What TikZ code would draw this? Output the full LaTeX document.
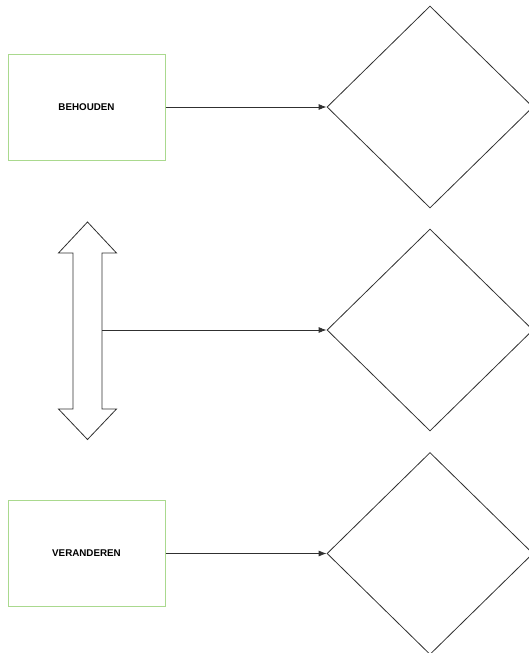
\documentclass[tikz,border=0pt]{standalone}
\usepackage{fontspec}
\setmainfont{Liberation Sans}
\usetikzlibrary{arrows.meta,shapes.geometric}
\definecolor{boxgreen}{HTML}{AAD98E}
\definecolor{linegray}{HTML}{303030}

\begin{document}
\begin{tikzpicture}[x=1pt,y=-1pt,
	keuze/.style={draw=boxgreen,line width=1pt,minimum width=157pt,minimum height=106pt,inner sep=0pt,font=\fontsize{9.8}{11}\selectfont\bfseries},
	ruit/.style={draw=linegray,line width=0.8pt,diamond,minimum width=206pt,minimum height=202pt,inner sep=0pt},
	pijl/.style={draw=linegray,line width=0.8pt,-{Latex[length=8pt,width=6pt]}}]

		\useasboundingbox (0,0) rectangle (529,653);

		\node[keuze] (behouden) at (86.5,107) {BEHOUDEN};
		\node[keuze] (veranderen) at (86.5,553.5) {VERANDEREN};

		\node[ruit] (ruitA) at (430,107) {};
		\node[ruit] (ruitB) at (430,330) {};
		\node[ruit] (ruitC) at (430,553.5) {};

		% double arrow between the two boxes
		\draw[linegray,line width=0.8pt] (87.5,222) -- (116.5,253) -- (102,253) -- (102,409) -- (116.5,409)
			-- (87.5,439.5) -- (58.5,409) -- (73,409) -- (73,253) -- (58.5,253) -- cycle;
		\coordinate (schacht) at (102,330);

		\draw[pijl] (behouden.east) -- (ruitA.west);
		\draw[pijl] (schacht) -- (ruitB.west);
		\draw[pijl] (veranderen.east) -- (ruitC.west);

\end{tikzpicture}
\end{document}
